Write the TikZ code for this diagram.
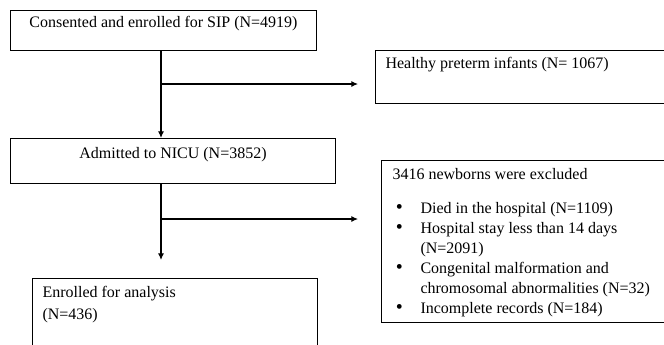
\documentclass[tikz,border=0pt]{standalone}
\usepackage{fontspec}
\setmainfont{Liberation Serif}
\usetikzlibrary{arrows.meta}
\newcommand{\flowtext}[5]{\parbox[t][#2][t]{#1}{#3\rule{0pt}{#4}#5}}
\newcommand{\flowitem}[1]{\par\hangindent=21pt\hangafter=1\noindent\makebox[21pt][l]{\hspace{2.5pt}{\fontsize{15}{15}\selectfont\textbullet}}#1}

\begin{document}
\begin{tikzpicture}[x=0.75pt,y=-0.75pt,line width=0.8pt]
\tikzstyle{every path}=[-{Latex[length=5pt,width=4.5pt]}];
\tikzstyle{box}=[draw,anchor=north west,inner xsep=7.5pt,inner ysep=0pt,font=\fontsize{12}{15}\selectfont];
\useasboundingbox (0,0) rectangle (664,344);
\node (SIP) [box] at (10,10) {\flowtext{214.5pt}{30pt}{\centering}{12.75pt}{Consented and enrolled for SIP (N=4919)}};
\node (HP) [box] at (375,50) {\flowtext{210pt}{39.75pt}{\raggedright}{13.5pt}{Healthy preterm infants (N= 1067)}};
\node (NICU) [box] at (10,138) {\flowtext{228.75pt}{33.75pt}{\centering}{15pt}{Admitted to NICU (N=3852)}};
\node (EA) [box] at (32,278) {\flowtext{198.75pt}{61.5pt}{\raggedright\fontsize{12}{16.5}\selectfont}{14.25pt}{Enrolled for analysis\\(N=436)}};
\node (EX) [box,inner xsep=8.25pt] at (381,160) {\flowtext{203.5pt}{121.5pt}{\raggedright}{14.25pt}{3416 newborns were excluded\par\vspace{10.5pt}
\flowitem{Died in the hospital (N=1109)}
\flowitem{Hospital stay less than 14 days\newline(N=2091)}
\flowitem{Congenital malformation and\newline chromosomal abnormalities (N=32)}
\flowitem{Incomplete records (N=184)}}};
\coordinate (J1) at (161,84);
\coordinate (J2) at (161,219);
\draw (SIP.south -| J1) -- (J1 |- NICU.north);
\draw[shorten >=12.75pt] (J1) -- (J1 -| HP.west);
\draw[shorten >=13.5pt] (NICU.south -| J2) -- (J2 |- EA.north);
\draw[shorten >=17.25pt] (J2) -- (J2 -| EX.west);
\end{tikzpicture}
\end{document}
